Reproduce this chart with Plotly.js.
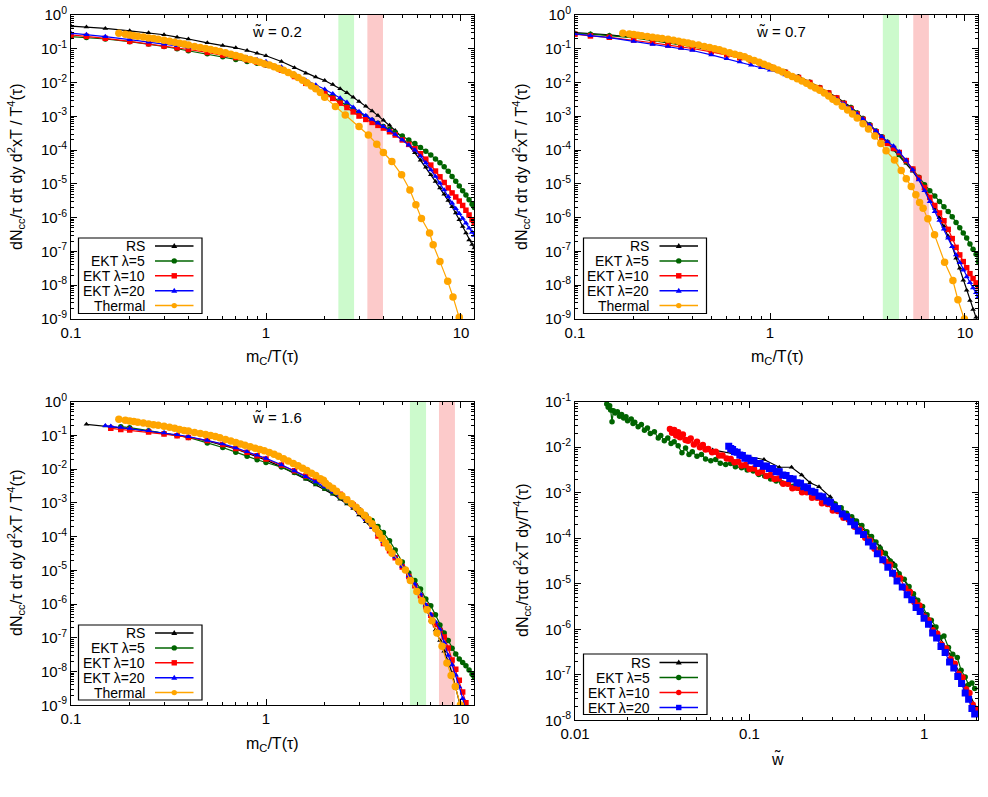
<!DOCTYPE html>
<html>
<head>
<meta charset="utf-8">
<script src="https://cdn.plot.ly/plotly-3.0.1.min.js"></script>
<style>html,body{margin:0;padding:0;background:#fff}</style>
</head>
<body>
<div id="chart" style="width:988px;height:797px"></div>
<script>
// ---------- tick labels ----------
const mTicks = [0.1, 1, 10];
const mTickLabels = ['0.1', '1', '10'];
const wTicks = [0.01, 0.1, 1];
const wTickLabels = ['0.01', '0.1', '1'];
const rateTicks = [1, 1e-1, 1e-2, 1e-3, 1e-4, 1e-5, 1e-6, 1e-7, 1e-8, 1e-9];
const rateTickLabels = ['10<sup>0</sup>', '10<sup>-1</sup>', '10<sup>-2</sup>', '10<sup>-3</sup>', '10<sup>-4</sup>',
  '10<sup>-5</sup>', '10<sup>-6</sup>', '10<sup>-7</sup>', '10<sup>-8</sup>', '10<sup>-9</sup>'];
const wRateTicks = [1e-1, 1e-2, 1e-3, 1e-4, 1e-5, 1e-6, 1e-7, 1e-8];
const wRateTickLabels = ['10<sup>-1</sup>', '10<sup>-2</sup>', '10<sup>-3</sup>', '10<sup>-4</sup>',
  '10<sup>-5</sup>', '10<sup>-6</sup>', '10<sup>-7</sup>', '10<sup>-8</sup>'];

// ---------- legend names ----------
const seriesNames = ['RS', 'EKT λ=5', 'EKT λ=10', 'EKT λ=20', 'Thermal'];

// ---------- shaded m_C/T windows ----------
const bandsW02 = { green: [2.35, 2.83], pink: [3.31, 3.98] };
const bandsW07 = { green: [3.79, 4.59], pink: [5.43, 6.53] };
const bandsW16 = { green: [5.47, 6.62], pink: [7.71, 9.31] };

// ---------- w~ = 0.2 and 0.7 : m_C/T sampling of RS / EKT ----------
const mGridA = [0.1, 0.12, 0.15, 0.2, 0.25, 0.3, 0.35, 0.4, 0.5, 0.6, 0.7, 0.8, 0.9, 1.0, 1.2, 1.4, 1.6, 1.8,
  2.0, 2.2, 2.4, 2.6, 2.8, 3.0, 3.25, 3.5, 3.75, 4.0, 4.3, 4.6, 5.0, 5.4, 5.8, 6.2, 6.6, 7.0, 7.4, 7.8,
  8.2, 8.6, 9.0, 9.4, 9.8, 10.2, 10.6, 11.0, 11.4, 11.7];

// w~ = 0.2
const rsW02 = [0.47, 0.44, 0.40, 0.34, 0.30, 0.26, 0.22, 0.195, 0.15, 0.126, 0.107, 0.089, 0.074, 0.062, 0.042,
  0.0275, 0.019, 0.0145, 0.0115, 8.7e-3, 6.6e-3, 5.0e-3, 3.7e-3, 2.75e-3, 2.0e-3, 1.45e-3, 1.05e-3, 7.6e-4,
  5.4e-4, 3.8e-4, 2.35e-4, 1.4e-4, 8.3e-5, 5.0e-5, 3.1e-5, 1.86e-5, 1.17e-5, 7.6e-6, 4.9e-6, 3.2e-6, 2.1e-6,
  1.38e-6, 8.7e-7, 5.5e-7, 3.5e-7, 2.2e-7, 1.6e-7, 1.26e-7];
const ekt5W02 = [0.23, 0.214, 0.195, 0.162, 0.138, 0.117, 0.100, 0.087, 0.071, 0.058, 0.048, 0.042, 0.037, 0.033,
  0.024, 0.0158, 0.0105, 7.2e-3, 5.0e-3, 3.7e-3, 2.75e-3, 2.1e-3, 1.62e-3, 1.26e-3, 9.8e-4, 7.6e-4, 6.2e-4,
  5.0e-4, 4.1e-4, 3.3e-4, 2.6e-4, 2.0e-4, 1.58e-4, 1.2e-4, 9.3e-5, 7.2e-5, 5.5e-5, 4.2e-5, 3.2e-5, 2.35e-5,
  1.66e-5, 1.2e-5, 8.7e-6, 6.3e-6, 4.7e-6, 3.4e-6, 2.5e-6, 2.0e-6];
const ekt10W02 = [0.257, 0.234, 0.204, 0.166, 0.141, 0.120, 0.107, 0.095, 0.078, 0.065, 0.055, 0.047, 0.040, 0.034,
  0.0234, 0.0151, 9.5e-3, 6.6e-3, 4.8e-3, 3.4e-3, 2.45e-3, 1.82e-3, 1.35e-3, 1.02e-3, 8.1e-4, 6.6e-4, 5.4e-4,
  4.5e-4, 3.5e-4, 2.8e-4, 2.0e-4, 1.48e-4, 1.1e-4, 7.8e-5, 5.4e-5, 3.6e-5, 2.4e-5, 1.62e-5, 1.1e-5, 7.6e-6,
  5.4e-6, 4.1e-6, 3.1e-6, 2.3e-6, 1.66e-6, 1.2e-6, 8.7e-7, 6.9e-7];
const ekt20W02 = [0.29, 0.263, 0.229, 0.186, 0.158, 0.138, 0.123, 0.112, 0.093, 0.078, 0.065, 0.055, 0.048, 0.042,
  0.029, 0.0178, 0.0117, 8.5e-3, 6.3e-3, 4.7e-3, 3.5e-3, 2.6e-3, 1.86e-3, 1.38e-3, 1.05e-3, 8.1e-4, 6.3e-4,
  5.0e-4, 3.8e-4, 2.9e-4, 2.0e-4, 1.41e-4, 1.0e-4, 6.6e-5, 4.2e-5, 2.6e-5, 1.66e-5, 1.05e-5, 6.6e-6, 4.2e-6,
  2.7e-6, 1.86e-6, 1.32e-6, 9.5e-7, 6.9e-7, 4.9e-7, 3.7e-7, 3.0e-7];
const thermMW02 = [0.176, 0.19, 0.2, 0.21, 0.22, 0.235, 0.25, 0.265, 0.28, 0.3, 0.32, 0.34, 0.36, 0.38, 0.4, 0.43,
  0.46, 0.49, 0.52, 0.55, 0.58, 0.62, 0.66, 0.7, 0.74, 0.78, 0.83, 0.88, 0.93, 0.98, 1.04, 1.1, 1.16, 1.23, 1.3,
  1.38, 1.46, 1.54, 1.62, 1.71, 1.8, 1.9, 2.0, 2.27, 2.55, 3.0, 3.35, 3.7, 4.0, 4.42, 4.96, 5.47, 5.87, 6.27,
  6.9, 7.2, 7.8, 8.55, 9.1, 9.8, 10.2];
const thermW02 = [0.288, 0.269, 0.257, 0.245, 0.234, 0.224, 0.209, 0.200, 0.191, 0.178, 0.166, 0.155, 0.145, 0.138,
  0.129, 0.117, 0.110, 0.102, 0.095, 0.089, 0.083, 0.076, 0.069, 0.063, 0.058, 0.052, 0.048, 0.044, 0.040, 0.036,
  0.033, 0.0295, 0.026, 0.023, 0.020, 0.017, 0.0141, 0.0117, 9.8e-3, 7.9e-3, 6.5e-3, 5.1e-3, 3.7e-3, 1.95e-3,
  1.1e-3, 5.0e-4, 2.8e-4, 1.5e-4, 8.5e-5, 4.6e-5, 1.86e-5, 6.6e-6, 2.4e-6, 9.5e-7, 3.5e-7, 1.58e-7, 5.0e-8,
  1.3e-8, 4.5e-9, 1.12e-9, 5e-10];

// w~ = 0.7
const rsW07 = [0.30, 0.28, 0.257, 0.219, 0.182, 0.155, 0.135, 0.120, 0.093, 0.074, 0.059, 0.047, 0.037, 0.030,
  0.021, 0.0151, 0.0105, 7.2e-3, 5.2e-3, 3.7e-3, 2.6e-3, 1.9e-3, 1.29e-3, 8.9e-4, 5.8e-4, 3.7e-4, 2.45e-4,
  1.62e-4, 1.05e-4, 6.8e-5, 4.1e-5, 2.35e-5, 1.32e-5, 7.2e-6, 3.8e-6, 1.9e-6, 1.0e-6, 5.6e-7, 2.8e-7, 1.41e-7,
  6.3e-8, 3.2e-8, 1.41e-8, 7.1e-9, 3.5e-9, 1.9e-9, 1.12e-9, 7e-10];
const ekt5W07 = [0.28, 0.27, 0.245, 0.209, 0.174, 0.148, 0.129, 0.115, 0.089, 0.071, 0.056, 0.045, 0.036, 0.0295,
  0.0204, 0.0145, 0.0102, 7.1e-3, 5.0e-3, 3.5e-3, 2.5e-3, 1.82e-3, 1.26e-3, 8.7e-4, 5.6e-4, 3.7e-4, 2.5e-4,
  1.7e-4, 1.1e-4, 7.4e-5, 4.5e-5, 2.7e-5, 1.58e-5, 9.5e-6, 6.3e-6, 4.4e-6, 3.0e-6, 2.1e-6, 1.51e-6, 1.07e-6,
  7.2e-7, 5.0e-7, 3.5e-7, 2.5e-7, 1.66e-7, 1.17e-7, 8.3e-8, 5.0e-8];
const ekt10W07 = [0.27, 0.24, 0.219, 0.182, 0.151, 0.129, 0.115, 0.102, 0.081, 0.066, 0.054, 0.044, 0.0355, 0.029,
  0.020, 0.0141, 0.0100, 6.9e-3, 4.9e-3, 3.5e-3, 2.4e-3, 1.7e-3, 1.17e-3, 8.1e-4, 5.2e-4, 3.5e-4, 2.35e-4,
  1.58e-4, 1.12e-4, 8.5e-5, 4.9e-5, 2.75e-5, 1.48e-5, 7.8e-6, 4.0e-6, 2.3e-6, 1.38e-6, 8.1e-7, 4.5e-7, 2.4e-7,
  1.32e-7, 7.9e-8, 5.0e-8, 3.3e-8, 2.2e-8, 1.58e-8, 1.17e-8, 9.1e-9];
const ekt20W07 = [0.275, 0.245, 0.214, 0.166, 0.135, 0.117, 0.102, 0.089, 0.066, 0.051, 0.041, 0.033, 0.0275,
  0.0234, 0.017, 0.012, 8.5e-3, 6.2e-3, 4.5e-3, 3.2e-3, 2.35e-3, 1.66e-3, 1.17e-3, 8.3e-4, 5.5e-4, 3.7e-4,
  2.5e-4, 1.78e-4, 1.32e-4, 8.9e-5, 5.0e-5, 2.6e-5, 1.32e-5, 6.3e-6, 3.0e-6, 1.51e-6, 8.3e-7, 4.6e-7, 2.5e-7,
  1.38e-7, 7.9e-8, 4.7e-8, 2.8e-8, 1.78e-8, 1.2e-8, 8.3e-9, 6.0e-9, 4.5e-9];
const thermMW07 = [0.176, 0.19, 0.2, 0.21, 0.22, 0.235, 0.25, 0.265, 0.28, 0.3, 0.32, 0.34, 0.36, 0.38, 0.4, 0.43,
  0.46, 0.49, 0.52, 0.55, 0.58, 0.62, 0.66, 0.7, 0.74, 0.78, 0.83, 0.88, 0.93, 0.98, 1.04, 1.1, 1.16, 1.23, 1.3,
  1.38, 1.46, 1.54, 1.62, 1.71, 1.8, 1.9, 2.0, 2.1, 2.2, 2.35, 2.5, 2.65, 2.8, 3.0, 3.2, 3.45, 3.7, 3.94, 4.35,
  4.71, 5.0, 5.3, 5.6, 5.85, 6.1, 6.45, 6.98, 7.86, 8.67, 9.2, 9.93, 10.3];
const thermW07 = [0.288, 0.272, 0.263, 0.251, 0.243, 0.229, 0.219, 0.209, 0.200, 0.191, 0.178, 0.166, 0.155, 0.148,
  0.138, 0.129, 0.117, 0.110, 0.100, 0.093, 0.085, 0.076, 0.069, 0.063, 0.058, 0.051, 0.045, 0.040, 0.035, 0.031,
  0.027, 0.0234, 0.0204, 0.0174, 0.0151, 0.0129, 0.0112, 9.5e-3, 8.1e-3, 6.9e-3, 5.9e-3, 4.9e-3, 4.0e-3, 3.2e-3,
  2.7e-3, 2.0e-3, 1.55e-3, 1.17e-3, 8.9e-4, 6.0e-4, 4.2e-4, 2.6e-4, 1.58e-4, 9.5e-5, 5.1e-5, 2.5e-5, 1.41e-5,
  8.3e-6, 4.8e-6, 2.8e-6, 1.9e-6, 9.3e-7, 3.1e-7, 4.8e-8, 1.38e-8, 3.7e-9, 1.0e-9, 5e-10];

// ---------- w~ = 1.6 ----------
const mGridC = [0.12, 0.15, 0.16, 0.18, 0.2, 0.25, 0.3, 0.35, 0.4, 0.5, 0.6, 0.7, 0.8, 0.9, 1.0, 1.2, 1.4, 1.6,
  1.8, 2.0, 2.2, 2.4, 2.6, 2.8, 3.0, 3.25, 3.5, 3.75, 4.0, 4.3, 4.6, 5.0, 5.4, 5.8, 6.2, 6.6, 7.0, 7.4, 7.8,
  8.2, 8.6, 9.0, 9.4, 9.8, 10.2, 10.6, 11.0, 11.4, 11.7];
const rsW16 = [0.214, 0.19, 0.183, 0.170, 0.158, 0.135, 0.117, 0.102, 0.089, 0.069, 0.052, 0.040, 0.030, 0.0234,
  0.0186, 0.0117, 7.6e-3, 5.0e-3, 3.4e-3, 2.5e-3, 1.82e-3, 1.29e-3, 9.3e-4, 6.8e-4, 4.4e-4, 2.75e-4, 1.82e-4,
  1.15e-4, 7.1e-5, 4.2e-5, 2.5e-5, 1.38e-5, 7.6e-6, 4.2e-6, 1.78e-6, 7.6e-7, 3.3e-7, 1.7e-7, 8.3e-8, 4.0e-8,
  2.0e-8, 8.9e-9, 3.2e-9, 1.05e-9, 5e-10, null, null, null, null];
const ekt5W16 = [null, null, null, 0.182, 0.170, 0.138, 0.115, 0.100, 0.087, 0.060, 0.044, 0.032, 0.024, 0.019,
  0.0158, 0.0115, 7.9e-3, 5.5e-3, 3.8e-3, 2.7e-3, 2.0e-3, 1.45e-3, 1.07e-3, 8.3e-4, 6.3e-4, 4.4e-4, 3.0e-4,
  2.0e-4, 1.32e-4, 7.6e-5, 4.0e-5, 1.78e-5, 8.3e-6, 5.0e-6, 2.8e-6, 1.41e-6, 8.9e-7, 4.8e-7, 2.4e-7, 1.38e-7,
  8.3e-8, 4.9e-8, 3.3e-8, 2.35e-8, 1.86e-8, 1.48e-8, 1.12e-8, 8.3e-9, 6.8e-9];
const ekt10W16 = [null, null, 0.162, 0.151, 0.145, 0.126, 0.110, 0.098, 0.087, 0.071, 0.054, 0.041, 0.032, 0.025,
  0.020, 0.0132, 8.9e-3, 6.3e-3, 4.7e-3, 3.6e-3, 2.7e-3, 1.82e-3, 1.26e-3, 8.7e-4, 6.0e-4, 3.7e-4, 2.2e-4,
  1.05e-4, 6.3e-5, 3.8e-5, 2.35e-5, 1.26e-5, 6.6e-6, 3.5e-6, 1.78e-6, 8.9e-7, 4.7e-7, 2.5e-7, 1.66e-7, 1.05e-7,
  5.0e-8, 2.2e-8, 1.17e-8, 5.5e-9, 2.5e-9, 1.2e-9, null, null, null];
const ekt20W16 = [null, 0.195, 0.186, 0.174, 0.162, 0.138, 0.120, 0.105, 0.093, 0.072, 0.056, 0.043, 0.033, 0.026,
  0.021, 0.0135, 8.9e-3, 6.0e-3, 4.2e-3, 3.0e-3, 2.1e-3, 1.51e-3, 1.07e-3, 7.6e-4, 5.2e-4, 3.2e-4, 1.9e-4,
  1.17e-4, 7.1e-5, 4.2e-5, 2.5e-5, 1.32e-5, 6.9e-6, 3.9e-6, 2.0e-6, 9.5e-7, 5.0e-7, 3.0e-7, 1.78e-7, 7.1e-8,
  3.0e-8, 1.58e-8, 7.9e-9, 3.5e-9, 1.58e-9, 7e-10, null, null, null];
const thermMW16 = [0.176, 0.19, 0.2, 0.21, 0.22, 0.235, 0.25, 0.265, 0.28, 0.3, 0.32, 0.34, 0.36, 0.38, 0.4, 0.43,
  0.46, 0.49, 0.52, 0.55, 0.58, 0.62, 0.66, 0.7, 0.74, 0.78, 0.83, 0.88, 0.93, 0.98, 1.04, 1.1, 1.16, 1.23, 1.3,
  1.38, 1.46, 1.54, 1.62, 1.71, 1.8, 1.9, 1.97, 2.02, 2.1, 2.2, 2.3, 2.45, 2.6, 2.75, 2.9, 3.05, 3.2, 3.35, 3.5,
  3.65, 3.8, 3.94, 4.1, 4.25, 4.43, 4.8, 5.19, 5.5, 5.94, 6.3, 6.7, 7.1, 7.53, 8.0, 8.47, 8.9, 9.35, 9.93];
const thermW16 = [0.302, 0.282, 0.269, 0.257, 0.245, 0.234, 0.219, 0.209, 0.200, 0.186, 0.174, 0.162, 0.151, 0.141,
  0.135, 0.123, 0.115, 0.107, 0.100, 0.093, 0.085, 0.076, 0.068, 0.062, 0.056, 0.051, 0.046, 0.042, 0.038, 0.035,
  0.031, 0.0275, 0.024, 0.0204, 0.0174, 0.0148, 0.0126, 0.0107, 9.1e-3, 7.6e-3, 6.5e-3, 5.2e-3, 4.7e-3, 3.8e-3,
  3.2e-3, 2.7e-3, 2.2e-3, 1.62e-3, 1.23e-3, 9.5e-4, 7.4e-4, 5.6e-4, 4.3e-4, 3.2e-4, 2.4e-4, 1.7e-4, 1.23e-4,
  8.9e-5, 6.5e-5, 4.7e-5, 3.2e-5, 1.8e-5, 1.02e-5, 5.0e-6, 2.35e-6, 1.26e-6, 6.8e-7, 3.2e-7, 1.38e-7, 5.6e-8,
  1.78e-8, 7.6e-9, 3.6e-9, 1.02e-9];

// ---------- rate versus w~ (values stored as log10) ----------
const wRS = [0.0615, 0.121, 0.148, 0.174, 0.199, 0.222, 0.25, 0.29, 0.33, 0.4, 0.49, 0.56, 0.67, 0.82, 0.96, 1.13,
  1.36, 1.63, 1.98];
const lgRS = [-2.06, -2.27, -2.44, -2.44, -2.61, -2.78, -2.87, -3.09, -3.34, -3.6, -3.96, -4.18, -4.55, -5.1, -5.5,
  -5.95, -6.45, -7.02, -7.72];
const wEkt5 = [0.0152, 0.0155, 0.0158, 0.016, 0.0163, 0.0166, 0.017, 0.0175, 0.018, 0.0185, 0.019, 0.0196, 0.02,
  0.021, 0.0215, 0.022, 0.023, 0.024, 0.025, 0.026, 0.027, 0.0285, 0.03, 0.031, 0.0325, 0.034, 0.0355, 0.037, 0.039,
  0.041, 0.043, 0.045, 0.047, 0.05, 0.053, 0.056, 0.06, 0.064, 0.068, 0.073, 0.078, 0.083, 0.09, 0.097, 0.105,
  0.113, 0.122, 0.132, 0.142, 0.153, 0.165, 0.178, 0.19, 0.205, 0.22, 0.236, 0.253, 0.27, 0.29, 0.31, 0.335, 0.36,
  0.385, 0.41, 0.44, 0.47, 0.5, 0.53, 0.56, 0.6, 0.64, 0.68, 0.72, 0.77, 0.82, 0.87, 0.92, 0.98, 1.04, 1.1, 1.17,
  1.24, 1.3, 1.38, 1.46, 1.55, 1.63, 1.72, 1.8, 1.88, 1.95];
const lgEkt5 = [-1.05, -1.12, -1.09, -1.18, -1.44, -1.2, -1.25, -1.22, -1.32, -1.28, -1.36, -1.33, -1.42, -1.38,
  -1.48, -1.45, -1.55, -1.5, -1.63, -1.58, -1.7, -1.66, -1.8, -1.74, -1.86, -1.8, -1.92, -1.88, -1.97, -2.12, -2.02,
  -2.16, -2.1, -2.2, -2.16, -2.26, -2.3, -2.27, -2.35, -2.38, -2.36, -2.43, -2.45, -2.5, -2.52, -2.6, -2.63, -2.7,
  -2.74, -2.78, -2.8, -2.86, -2.9, -2.95, -2.99, -3.04, -3.08, -3.13, -3.18, -3.25, -3.33, -3.45, -3.53, -3.62,
  -3.72, -3.86, -3.96, -4.08, -4.22, -4.33, -4.5, -4.6, -4.78, -4.9, -5.06, -5.22, -5.36, -5.5, -5.68, -5.8, -5.95,
  -6.18, -6.15, -6.4, -6.55, -6.62, -6.9, -7.05, -7.22, -7.18, -7.3];
const wEkt10 = [0.035, 0.036, 0.037, 0.038, 0.039, 0.040, 0.0415, 0.043, 0.0445, 0.046, 0.048, 0.05, 0.052, 0.054,
  0.056, 0.058, 0.061, 0.064, 0.067, 0.07, 0.074, 0.078, 0.082, 0.086, 0.09, 0.095, 0.1, 0.106, 0.112, 0.118,
  0.125, 0.132, 0.139, 0.147, 0.156, 0.166, 0.176, 0.187, 0.2, 0.213, 0.228, 0.244, 0.26, 0.28, 0.3, 0.32, 0.345,
  0.37, 0.4, 0.43, 0.46, 0.49, 0.52, 0.56, 0.6, 0.64, 0.68, 0.73, 0.78, 0.83, 0.88, 0.94, 1.0, 1.06, 1.12, 1.19,
  1.26, 1.34, 1.42, 1.5, 1.58, 1.66, 1.74, 1.82, 1.9, 1.97];
const lgEkt10 = [-1.6, -1.68, -1.62, -1.74, -1.67, -1.78, -1.72, -1.84, -1.86, -1.81, -1.94, -1.88, -2.0, -1.95,
  -2.05, -2.04, -2.11, -2.1, -2.18, -2.18, -2.25, -2.26, -2.33, -2.32, -2.4, -2.39, -2.48, -2.47, -2.56, -2.53,
  -2.63, -2.61, -2.7, -2.69, -2.8, -2.8, -2.9, -2.89, -2.99, -2.99, -3.11, -3.11, -3.23, -3.25, -3.39, -3.4, -3.55,
  -3.59, -3.75, -3.81, -3.99, -4.05, -4.23, -4.32, -4.51, -4.58, -4.8, -4.88, -5.1, -5.18, -5.4, -5.48, -5.72, -5.8,
  -6.02, -6.1, -6.34, -6.42, -6.66, -6.76, -6.98, -7.06, -7.32, -7.4, -7.66, -7.76];
const wEkt20 = [0.076, 0.078, 0.08, 0.082, 0.085, 0.088, 0.091, 0.094, 0.098, 0.102, 0.106, 0.11, 0.115, 0.12,
  0.125, 0.13, 0.136, 0.142, 0.148, 0.155, 0.162, 0.17, 0.178, 0.187, 0.196, 0.205, 0.215, 0.226, 0.237, 0.25,
  0.263, 0.277, 0.29, 0.305, 0.32, 0.34, 0.36, 0.38, 0.4, 0.42, 0.45, 0.48, 0.51, 0.54, 0.58, 0.62, 0.66, 0.7,
  0.75, 0.8, 0.85, 0.9, 0.95, 1.0, 1.06, 1.12, 1.18, 1.25, 1.32, 1.4, 1.48, 1.56, 1.64, 1.72, 1.8, 1.88, 1.95];
const lgEkt20 = [-1.98, -2.03, -2.05, -2.1, -2.11, -2.17, -2.18, -2.24, -2.24, -2.3, -2.3, -2.36, -2.36, -2.42,
  -2.41, -2.47, -2.47, -2.54, -2.54, -2.61, -2.62, -2.69, -2.7, -2.78, -2.79, -2.87, -2.89, -2.97, -2.99, -3.07,
  -3.09, -3.18, -3.21, -3.31, -3.35, -3.47, -3.53, -3.64, -3.71, -3.84, -3.92, -4.08, -4.17, -4.34, -4.47, -4.64,
  -4.77, -4.94, -5.07, -5.24, -5.35, -5.52, -5.61, -5.76, -5.89, -6.08, -6.19, -6.38, -6.51, -6.72, -6.85, -7.04,
  -7.19, -7.4, -7.54, -7.74, -7.86];

// ---------- styling ----------
const FONT = 'Liberation Sans, Arial, Helvetica, sans-serif';
const COL = { rs: '#000000', l5: '#006400', l10: '#ff0000', l20: '#0000ff', th: '#ffa500' };
const GREEN_BAND = 'rgb(204,250,204)';
const PINK_BAND = 'rgb(252,202,202)';
const W = 988, H = 797;
const px = X => X / W;
const py = Y => 1 - Y / H;
const fromLog = a => a.map(v => Math.pow(10, v));

function curve(x, y, color, symbol, size, xa, ya) {
  return {
    type: 'scatter', mode: 'lines+markers', x: x, y: y, xaxis: xa, yaxis: ya,
    line: { color: color, width: 1.2 },
    marker: { color: color, symbol: symbol, size: size, line: { width: 0 } },
    showlegend: false, hoverinfo: 'skip', connectgaps: false, cliponaxis: true
  };
}

const traces = [
  // w~ = 0.2
  curve(mGridA, rsW02, COL.rs, 'triangle-up', 5, 'x', 'y'),
  curve(mGridA, ekt5W02, COL.l5, 'circle', 5.5, 'x', 'y'),
  curve(mGridA, ekt10W02, COL.l10, 'square', 5.5, 'x', 'y'),
  curve(mGridA, ekt20W02, COL.l20, 'triangle-up', 5.5, 'x', 'y'),
  curve(thermMW02, thermW02, COL.th, 'circle', 7.5, 'x', 'y'),
  // w~ = 0.7
  curve(mGridA, rsW07, COL.rs, 'triangle-up', 5, 'x2', 'y2'),
  curve(mGridA, ekt5W07, COL.l5, 'circle', 5.5, 'x2', 'y2'),
  curve(mGridA, ekt10W07, COL.l10, 'square', 5.5, 'x2', 'y2'),
  curve(mGridA, ekt20W07, COL.l20, 'triangle-up', 5.5, 'x2', 'y2'),
  curve(thermMW07, thermW07, COL.th, 'circle', 7.5, 'x2', 'y2'),
  // w~ = 1.6
  curve(mGridC, rsW16, COL.rs, 'triangle-up', 5, 'x3', 'y3'),
  curve(mGridC, ekt5W16, COL.l5, 'circle', 5.5, 'x3', 'y3'),
  curve(mGridC, ekt10W16, COL.l10, 'square', 5.5, 'x3', 'y3'),
  curve(mGridC, ekt20W16, COL.l20, 'triangle-up', 5.5, 'x3', 'y3'),
  curve(thermMW16, thermW16, COL.th, 'circle', 7.5, 'x3', 'y3'),
  // rate vs w~
  curve(wRS, fromLog(lgRS), COL.rs, 'triangle-up', 5, 'x4', 'y4'),
  curve(wEkt5, fromLog(lgEkt5), COL.l5, 'circle', 5.5, 'x4', 'y4'),
  curve(wEkt10, fromLog(lgEkt10), COL.l10, 'circle', 6.5, 'x4', 'y4'),
  curve(wEkt20, fromLog(lgEkt20), COL.l20, 'square', 7, 'x4', 'y4')
];

function logAxis(domain, range, anchor, tickvals, ticktext) {
  return {
    type: 'log', domain: domain, range: range, anchor: anchor,
    tickmode: 'array', tickvals: tickvals, ticktext: ticktext,
    ticks: 'inside', ticklen: 6, tickwidth: 1, tickcolor: '#000',
    showline: true, linecolor: '#000', linewidth: 1, mirror: 'allticks',
    showgrid: false, zeroline: false, fixedrange: true,
    minor: { ticks: 'inside', ticklen: 3, tickwidth: 1, tickcolor: '#000', dtick: 'D1', showgrid: false },
    tickfont: { family: FONT, size: 15, color: '#000' }
  };
}

const xDomL = [px(71), px(474)], xDomR = [px(575), px(978)];
const yDomT = [py(319), py(15)];
const yDomB3 = [py(705.3), py(401.7)];
const yDomB4 = [py(720.3), py(401.7)];
const mRange = [-1, 1.0667];

const shapes = [];
const annotations = [];

function bands(b, xa) {
  [[b.green, GREEN_BAND], [b.pink, PINK_BAND]].forEach(([r, c]) => {
    shapes.push({ type: 'rect', xref: xa, yref: xa.replace('x', 'y') + ' domain', x0: r[0], x1: r[1], y0: 0, y1: 1,
      fillcolor: c, line: { width: 0 }, layer: 'below' });
  });
}
bands(bandsW02, 'x');
bands(bandsW07, 'x2');
bands(bandsW16, 'x3');

function text(t, X, Y, opts) {
  annotations.push(Object.assign({
    text: t, xref: 'paper', yref: 'paper', x: px(X), y: py(Y), showarrow: false, borderpad: 0,
    xanchor: 'center', yanchor: 'middle', font: { family: FONT, size: 15, color: '#000' }
  }, opts || {}));
}

// panel captions
text('w̃ = 0.2', 277, 32);
text('w̃ = 0.7', 781, 31);
text('w̃ = 1.6', 277, 417);

// axis titles
const yTitleM = 'dN<sub>cc</sub>/τ dτ dy d<sup>2</sup>xT / T<sup>4</sup>(τ)';
const yTitleW = 'dN<sub>cc</sub>/τdτ d<sup>2</sup>xT dy/T<sup>4</sup>(τ)';
const xTitleM = 'm<sub>C</sub>/T(τ)';
const titleFont = { family: FONT, size: 16, color: '#000' };
text(yTitleM, 16, 167, { textangle: -90, font: titleFont });
text(yTitleM, 521, 167, { textangle: -90, font: titleFont });
text(yTitleM, 16, 553, { textangle: -90, font: titleFont });
text(yTitleW, 522, 561, { textangle: -90, font: titleFont });
text(xTitleM, 272, 358, { font: titleFont });
text(xTitleM, 777, 358, { font: titleFont });
text(xTitleM, 272, 744, { font: titleFont });
text('w̃', 777, 758, { font: titleFont });

// gnuplot-style keys: right-aligned label, sample line with a point in the middle
const keyFont = { family: FONT, size: 14, color: '#000' };
function key(boxL, boxT, boxR, boxB, firstRow, step, textR, lineL, lineR, entries) {
  shapes.push({ type: 'rect', xref: 'paper', yref: 'paper', x0: px(boxL), x1: px(boxR), y0: py(boxB), y1: py(boxT),
    line: { color: '#000', width: 1.2 }, fillcolor: 'rgba(255,255,255,0)', layer: 'above' });
  entries.forEach((e, i) => {
    const Y = firstRow + i * step;
    text(e.name, textR, Y, { xanchor: 'right', font: keyFont });
    shapes.push({ type: 'line', xref: 'paper', yref: 'paper', x0: px(lineL), x1: px(lineR), y0: py(Y), y1: py(Y),
      line: { color: e.color, width: 1.5 }, layer: 'above' });
    const mx = (lineL + lineR) / 2;
    const base = { xref: 'paper', yref: 'paper', xsizemode: 'pixel', ysizemode: 'pixel', xanchor: px(mx),
      yanchor: py(Y), fillcolor: e.color, line: { width: 0 }, layer: 'above' };
    if (e.symbol === 'circle') {
      shapes.push(Object.assign({ type: 'circle', x0: -2.7, x1: 2.7, y0: -2.7, y1: 2.7 }, base));
    } else if (e.symbol === 'square') {
      shapes.push(Object.assign({ type: 'rect', x0: -2.7, x1: 2.7, y0: -2.7, y1: 2.7 }, base));
    } else {
      shapes.push(Object.assign({ type: 'path', path: 'M-3,-2 L3,-2 L0,3 Z' }, base));
    }
  });
}
const keyM = [
  { name: seriesNames[0], color: COL.rs, symbol: 'triangle' },
  { name: seriesNames[1], color: COL.l5, symbol: 'circle' },
  { name: seriesNames[2], color: COL.l10, symbol: 'square' },
  { name: seriesNames[3], color: COL.l20, symbol: 'triangle' },
  { name: seriesNames[4], color: COL.th, symbol: 'circle' }
];
const keyW = [
  { name: seriesNames[0], color: COL.rs, symbol: 'triangle' },
  { name: seriesNames[1], color: COL.l5, symbol: 'circle' },
  { name: seriesNames[2], color: COL.l10, symbol: 'circle' },
  { name: seriesNames[3], color: COL.l20, symbol: 'square' }
];
key(78.5, 238, 202, 313.5, 246, 14.9, 145.5, 155, 193.5, keyM);
key(583.5, 238, 706.5, 313.5, 246, 14.9, 650, 659.5, 698, keyM);
key(78.5, 625, 202, 700, 633, 14.9, 145.5, 155, 193.5, keyM);
key(583.5, 654, 707, 714.5, 662.5, 15, 650.5, 659.5, 698, keyW);

const layout = {
  width: W, height: H, margin: { l: 0, r: 0, t: 0, b: 0 },
  paper_bgcolor: '#fff', plot_bgcolor: 'rgba(0,0,0,0)', showlegend: false,
  font: { family: FONT, size: 15, color: '#000' },
  xaxis: logAxis(xDomL, mRange, 'y', mTicks, mTickLabels),
  yaxis: logAxis(yDomT, [-9, 0], 'x', rateTicks, rateTickLabels),
  xaxis2: logAxis(xDomR, mRange, 'y2', mTicks, mTickLabels),
  yaxis2: logAxis(yDomT, [-9, 0], 'x2', rateTicks, rateTickLabels),
  xaxis3: logAxis(xDomL, mRange, 'y3', mTicks, mTickLabels),
  yaxis3: logAxis(yDomB3, [-9, 0], 'x3', rateTicks, rateTickLabels),
  xaxis4: logAxis(xDomR, [-2, 0.309], 'y4', wTicks, wTickLabels),
  yaxis4: logAxis(yDomB4, [-8, -1], 'x4', wRateTicks, wRateTickLabels),
  shapes: shapes, annotations: annotations
};

Plotly.newPlot('chart', traces, layout, { displayModeBar: false, staticPlot: true });
</script>
</body>
</html>
